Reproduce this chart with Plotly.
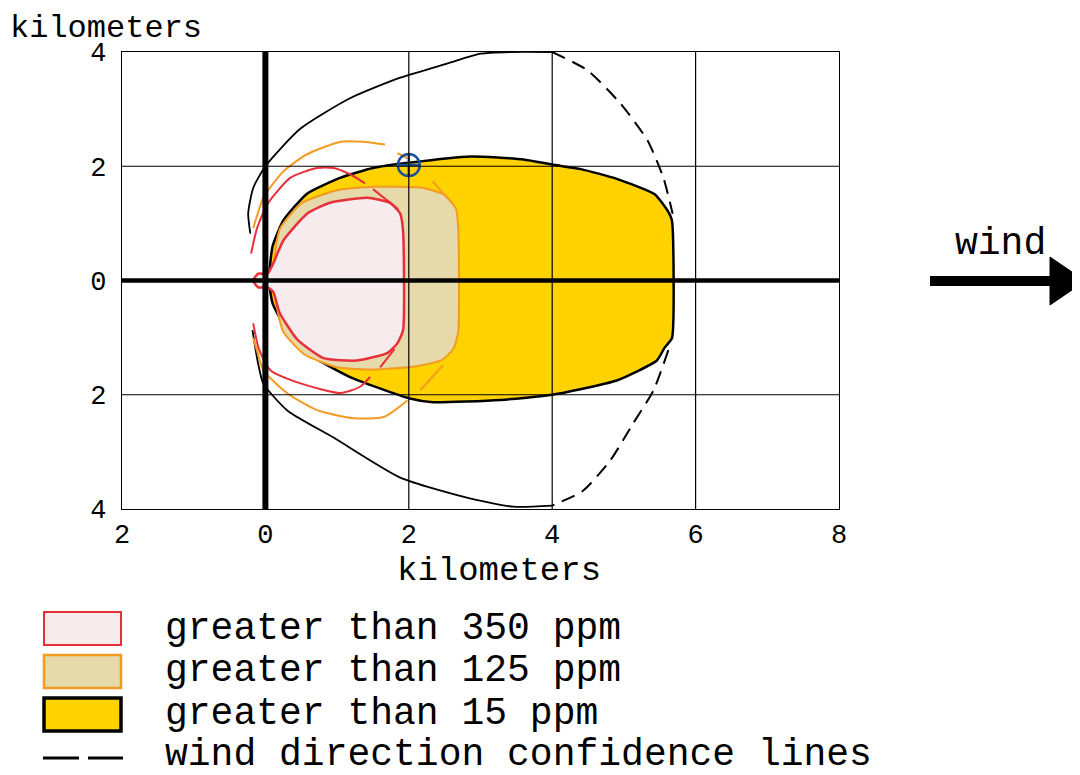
import plotly.graph_objects as go

# ---------------- data (km) ----------------
x_tickvals = [-2, 0, 2, 4, 6, 8]
x_ticktext = ["2", "0", "2", "4", "6", "8"]
y_tickvals = [-4, -2, 0, 2, 4]
y_ticktext = ["4", "2", "0", "2", "4"]

# > 15 ppm zone (yellow)
zone15_x = [0.05, 0.1, 0.25, 0.58, 1.05, 1.5, 2.0, 2.86, 3.6, 4.0, 4.4, 4.9, 5.43, 5.62, 5.67,
            5.67, 5.57, 5.46, 4.9, 4.0, 3.28, 2.34, 2.0, 1.18, 0.58, 0.3, 0.1, 0.05]
zone15_y = [0.0, 0.6, 1.05, 1.52, 1.8, 1.97, 2.06, 2.17, 2.12, 2.03, 1.95, 1.78, 1.51, 1.2, 1.05,
            -1.01, -1.17, -1.4, -1.75, -2.0, -2.09, -2.13, -2.06, -1.69, -1.27, -0.87, -0.4, 0.0]

# > 125 ppm zone (beige)
zone125_x = [0.1, 0.2, 0.5, 1.0, 1.5, 2.2, 2.5, 2.66, 2.69, 2.69, 2.62, 2.45, 2.1, 1.5, 1.0, 0.55, 0.25, 0.1]
zone125_y = [0.0, 0.9, 1.35, 1.58, 1.64, 1.62, 1.5, 1.25, 0.9, -0.9, -1.2, -1.4, -1.5, -1.56, -1.52, -1.3, -0.9, 0.0]

# > 350 ppm zone (pale)
zone350_x = [0.03, 0.11, 0.25, 0.58, 0.9, 1.42, 1.74, 1.88, 1.92, 1.92, 1.84, 1.7, 1.28, 0.81,
             0.45, 0.2, 0.11, 0.03, -0.1, -0.17, -0.1, 0.03]
zone350_y = [0.12, 0.3, 0.7, 1.17, 1.36, 1.45, 1.36, 1.17, 0.87, -0.87, -1.1, -1.27, -1.4, -1.36,
             -1.04, -0.57, -0.2, -0.12, -0.12, 0.0, 0.12, 0.12]

# red confidence lines
red_up_x = [-0.2, -0.12, 0.03, 0.35, 0.72, 0.95, 1.18, 1.39]
red_up_y = [0.47, 0.9, 1.34, 1.8, 1.97, 1.97, 1.86, 1.7]
red_up_dash_x = [1.5, 1.85]
red_up_dash_y = [1.6, 1.25]
red_lo_x = [-0.17, -0.09, 0.07, 0.49, 1.05, 1.32, 1.46]
red_lo_y = [-0.75, -1.2, -1.57, -1.8, -1.97, -1.86, -1.69]
red_lo_dash_x = [1.6, 1.8]
red_lo_dash_y = [-1.52, -1.2]

# orange confidence lines
org_up_x = [-0.17, -0.1, -0.03, 0.25, 0.58, 1.05, 1.36, 1.67]
org_up_y = [0.92, 1.2, 1.45, 1.91, 2.21, 2.43, 2.43, 2.38]
org_up_dash1_x = [1.84, 1.98]
org_up_dash1_y = [2.23, 2.14]
org_up_dash2_x = [2.33, 2.53]
org_up_dash2_y = [1.74, 1.45]
org_lo_x = [-0.17, -0.1, -0.03, 0.3, 0.72, 1.23, 1.65, 1.98]
org_lo_y = [-1.0, -1.3, -1.57, -1.97, -2.27, -2.41, -2.39, -2.1]
org_lo_dash_x = [2.16, 2.48]
org_lo_dash_y = [-1.92, -1.48]

# wind direction confidence lines (black)
blk_up_x = [-0.21, -0.24, -0.17, 0.0, 0.49, 1.18, 1.88, 2.54, 3.0, 3.41, 4.0]
blk_up_y = [0.82, 1.17, 1.62, 2.0, 2.66, 3.19, 3.55, 3.8, 3.97, 4.0, 4.0]
blk_lo_x = [-0.18, -0.11, -0.03, 0.31, 0.95, 1.88, 2.81, 3.46, 4.0]
blk_lo_y = [-0.87, -1.4, -1.8, -2.28, -2.75, -3.45, -3.8, -3.96, -3.94]
blk_up_dash_x = [4.0, 4.49, 4.95, 5.33, 5.55, 5.68]
blk_up_dash_y = [4.0, 3.68, 3.1, 2.45, 1.8, 1.17]
blk_lo_dash_x = [5.62, 5.41, 5.13, 4.81, 4.43, 4.0]
blk_lo_dash_y = [-1.22, -1.93, -2.5, -3.15, -3.68, -3.94]

# source point marker
marker_x = [2.0]
marker_y = [2.02]

legend_labels = ["greater than 350 ppm", "greater than 125 ppm", "greater than 15 ppm",
                 "wind direction confidence lines"]

# ---------------- styles ----------------
YELLOW = "#FFD200"
BEIGE = "#E6D9AA"
PALE = "#F6ECEE"
RED = "#E8303A"
ORANGE = "#F39A22"
FONT = "Courier New, Liberation Mono, monospace"

fig = go.Figure()

def line(x, y, color, width, dash="solid", shape="spline"):
    fig.add_trace(go.Scatter(x=x, y=y, mode="lines",
                             line=dict(color=color, width=width, dash=dash, shape=shape, smoothing=0.6),
                             showlegend=False, hoverinfo="skip"))

def zone(x, y, fill, color, width):
    fig.add_trace(go.Scatter(x=x, y=y, fill="toself", fillcolor=fill, mode="lines",
                             line=dict(color=color, width=width, shape="spline", smoothing=0.5),
                             showlegend=False, hoverinfo="skip"))

zone(zone15_x, zone15_y, YELLOW, "black", 2.5)
zone(zone125_x, zone125_y, BEIGE, ORANGE, 2)
zone(zone350_x, zone350_y, PALE, RED, 2.5)

line(blk_up_x, blk_up_y, "black", 1.8)
line(blk_lo_x, blk_lo_y, "black", 1.8)
line(blk_up_dash_x, blk_up_dash_y, "black", 2, "14px,8px")
line(blk_lo_dash_x, blk_lo_dash_y, "black", 2, "14px,8px")
line(org_up_x, org_up_y, ORANGE, 2)
line(org_lo_x, org_lo_y, ORANGE, 2)
line(org_up_dash1_x, org_up_dash1_y, ORANGE, 2)
line(org_up_dash2_x, org_up_dash2_y, ORANGE, 2)
line(org_lo_dash_x, org_lo_dash_y, ORANGE, 2)
line(red_up_x, red_up_y, RED, 2)
line(red_lo_x, red_lo_y, RED, 2)
line(red_up_dash_x, red_up_dash_y, RED, 2)
line(red_lo_dash_x, red_lo_dash_y, RED, 2)

shapes = []
for v in x_tickvals[1:-1]:
    if v != 0:
        shapes.append(dict(type="line", xref="x", yref="y", x0=v, x1=v, y0=-4, y1=4,
                           line=dict(color="black", width=1.2), layer="above"))
for v in y_tickvals[1:-1]:
    if v != 0:
        shapes.append(dict(type="line", xref="x", yref="y", x0=-2, x1=8, y0=v, y1=v,
                           line=dict(color="black", width=1.2), layer="above"))
shapes.append(dict(type="line", xref="x", yref="y", x0=-2, x1=8, y0=0, y1=0,
                   line=dict(color="black", width=4.5), layer="above"))
shapes.append(dict(type="line", xref="x", yref="y", x0=0, x1=0, y0=-4, y1=4,
                   line=dict(color="black", width=6), layer="above"))

fig.add_trace(go.Scatter(x=marker_x, y=marker_y, mode="markers",
                         marker=dict(symbol="circle-cross-open", size=22, color="#1A4F9A",
                                     line=dict(width=2.5, color="#1A4F9A")),
                         showlegend=False, hoverinfo="skip"))

# ---------------- custom legend & annotations (positions from page pixels) ----------------
OFF = 8  # default page body margin
FW, FH = 1080 - OFF, 775 - OFF
L, R, T, B = 122 - OFF, 839 - OFF, 52 - OFF, 509 - OFF
W, H = R - L, B - T
def px(xp):
    return (xp - OFF - L) / W
def py(yp):
    return (B - (yp - OFF)) / H

boxes = [(612, 645, RED, PALE, 2), (655, 688, ORANGE, BEIGE, 2.5), (698, 731, "black", YELLOW, 3.5)]
for y0, y1, lc, fc, lw in boxes:
    shapes.append(dict(type="rect", xref="paper", yref="paper", x0=px(44), x1=px(121),
                       y0=py(y1), y1=py(y0), line=dict(color=lc, width=lw), fillcolor=fc, layer="above"))
for a, b in [(43, 79), (88, 123)]:
    shapes.append(dict(type="line", xref="paper", yref="paper", x0=px(a), x1=px(b),
                       y0=py(758), y1=py(758), line=dict(color="black", width=3)))

shapes.append(dict(type="line", xref="paper", yref="paper", x0=px(930), x1=px(1055),
                   y0=py(281), y1=py(281), line=dict(color="black", width=10)))
shapes.append(dict(type="path", xref="paper", yref="paper",
                   path=f"M {px(1050)} {py(257)} L {px(1085)} {py(281)} L {px(1050)} {py(305)} Z",
                   fillcolor="black", line=dict(color="black", width=1)))

annotations = []
row_y = [628, 670, 713, 755]
for lab, yy in zip(legend_labels, row_y):
    annotations.append(dict(text=lab, xref="paper", yref="paper", x=px(163), y=py(yy),
                            xanchor="left", yanchor="middle", showarrow=False,
                            font=dict(family=FONT, size=38, color="black")))
annotations.append(dict(text="kilometers", xref="paper", yref="paper", x=px(8), y=py(8),
                        xanchor="left", yanchor="top", showarrow=False,
                        font=dict(family=FONT, size=32, color="black")))
annotations.append(dict(text="kilometers", xref="paper", yref="paper", x=px(499), y=py(571),
                        xanchor="center", yanchor="middle", showarrow=False,
                        font=dict(family=FONT, size=34, color="black")))
annotations.append(dict(text="wind", xref="paper", yref="paper", x=px(1000), y=py(243),
                        xanchor="center", yanchor="middle", showarrow=False,
                        font=dict(family=FONT, size=38, color="black")))

fig.update_layout(
    width=FW, height=FH,
    margin=dict(l=L, r=FW - R, t=T, b=FH - B),
    paper_bgcolor="white", plot_bgcolor="white",
    shapes=shapes, annotations=annotations,
    font=dict(family=FONT, color="black"),
    showlegend=False,
)
fig.update_xaxes(range=[-2, 8], tickvals=x_tickvals, ticktext=x_ticktext, showgrid=False,
                 zeroline=False, showline=True, mirror=True, linecolor="black", linewidth=1.2,
                 ticks="", tickfont=dict(family=FONT, size=27, color="black"), fixedrange=True)
fig.update_yaxes(range=[-4, 4], tickvals=y_tickvals, ticktext=y_ticktext, showgrid=False,
                 zeroline=False, showline=True, mirror=True, linecolor="black", linewidth=1.2,
                 ticks="outside", ticklen=9, tickcolor="rgba(0,0,0,0)",
                 tickfont=dict(family=FONT, size=27, color="black"), fixedrange=True)

fig.write_html("out.html")
